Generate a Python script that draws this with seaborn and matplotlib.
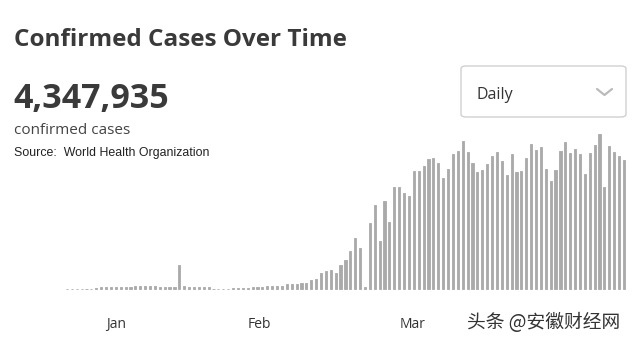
import numpy as np
import pandas as pd
import seaborn as sns
import matplotlib
matplotlib.use("Agg")
import matplotlib.pyplot as plt
from matplotlib.patches import FancyBboxPatch
from matplotlib.lines import Line2D

# ---- data (relative daily counts; no y axis is shown) ----
daily_cases = [
    0.3, 0.3, 0.3, 0.3, 0.4, 0.5, 1.0, 1.7, 1.7, 1.7, 2.0, 2.0, 2.3, 2.3, 2.7, 3.3,
    3.0, 3.0, 2.7, 2.3, 2.3, 2.0, 2.0,
    24.0,
    3.3, 2.0, 2.0, 2.0, 2.0, 1.7, 0.5, 0.5, 0.5, 0.5, 0.7, 0.7,
    0.7, 1.3, 1.7, 1.7, 2.0, 2.7, 3.0, 3.0, 3.3, 5.0, 4.7, 4.7, 6.0, 6.0, 9.3, 10.0,
    15.7, 18.3, 19.0, 16.3, 24.3, 29.0, 38.3, 51.3, 41.3, 1.7,
    65.7, 84.0, 47.7, 88.3, 66.7, 101.7, 101.7, 96.0, 93.3, 117.7,
    118.3, 123.3, 130.0, 131.0, 126.3, 111.3, 120.0, 134.7, 137.7, 147.7,
    137.3, 125.7, 116.7, 119.0, 125.0, 133.3, 137.3, 127.7, 114.3, 135.3,
    117.3, 118.3, 130.7, 145.3, 139.0, 141.7, 120.0, 107.7, 118.7, 138.3,
    147.3, 136.3, 140.0, 135.0, 114.7, 136.3, 143.7, 155.0, 102.3, 143.0,
    137.3, 132.7, 129.0,
]
month_labels = ["Jan", "Feb", "Mar"]
month_tick_pos = [10.05, 39.3, 70.8]   # bar-index positions of the month labels

title_text = "Confirmed Cases Over Time"
total_text = "4,347,935"
sub_text = "confirmed cases"
source_text = "Source:  World Health Organization"
dropdown_text = "Daily"
watermark_text = "头条 @安徽财经网"

df = pd.DataFrame({"day": np.arange(len(daily_cases)), "cases": daily_cases})

sns.set_style("white")
plt.rcParams["font.family"] = ["Open Sans", "DejaVu Sans"]

W, H = 640, 342
fig = plt.figure(figsize=(6.4, 3.42), dpi=100)
fig.patch.set_facecolor("white")

n = len(daily_cases)
left_px, right_px = 64.5, 626.4
ax = fig.add_axes([left_px / W, (H - 289) / H, (right_px - left_px) / W, 158 / H])
sns.barplot(data=df, x="day", y="cases", color="#aaaaaa", saturation=1,
            width=0.44, ax=ax, order=list(range(n)),
            edgecolor="#aaaaaa", linewidth=0.6)
for p in ax.patches:
    p.set_joinstyle("round")
    p.set_clip_on(False)
ax.set_xlim(-0.5, n - 0.5)
ax.set_ylim(0, 158)
for s in ax.spines.values():
    s.set_visible(False)
ax.set_yticks([])
ax.set_xticks(month_tick_pos)
ax.set_xticklabels(month_labels, fontsize=10, color="#333333")
ax.tick_params(axis="x", length=0, pad=20)
ax.set_xlabel("")
ax.set_ylabel("")
ax.set_facecolor("white")

def fx(px):
    return px / W

def fy(py):
    return 1 - py / H

fig.text(fx(14), fy(40), title_text, fontsize=17.5, fontweight="bold",
         color="#3a3a3a", va="center", ha="left")
fig.text(fx(13), fy(99), total_text, fontsize=24.5, fontweight="bold",
         color="#3a3a3a", va="center", ha="left")
fig.text(fx(14), fy(131), sub_text, fontsize=11, color="#444444",
         va="center", ha="left")
fig.text(fx(14), fy(153), source_text, fontsize=8.9, color="#222222",
         va="center", ha="left", family=["Liberation Sans", "DejaVu Sans"])

box = FancyBboxPatch((fx(461), fy(117)), fx(626) - fx(461), fy(66) - fy(117),
                     boxstyle="round,pad=0,rounding_size=0.008",
                     transform=fig.transFigure, facecolor="white",
                     edgecolor="#d0d0d0", linewidth=1.0)
fig.add_artist(box)
fig.text(fx(476), fy(95), dropdown_text, fontsize=11.5, color="#333333",
         va="center", ha="left")
fig.add_artist(Line2D([fx(597), fx(604.5), fx(612)], [fy(89), fy(95), fy(89)],
                      transform=fig.transFigure, color="#bbbbbb", linewidth=1.6,
                      solid_capstyle="round", solid_joinstyle="round"))

fig.text(fx(467), fy(323), watermark_text, fontsize=13.5, color="#333333",
         va="center", ha="left", family=["Noto Sans CJK SC", "DejaVu Sans"])

fig.savefig("out.png", dpi=100, facecolor="white")
